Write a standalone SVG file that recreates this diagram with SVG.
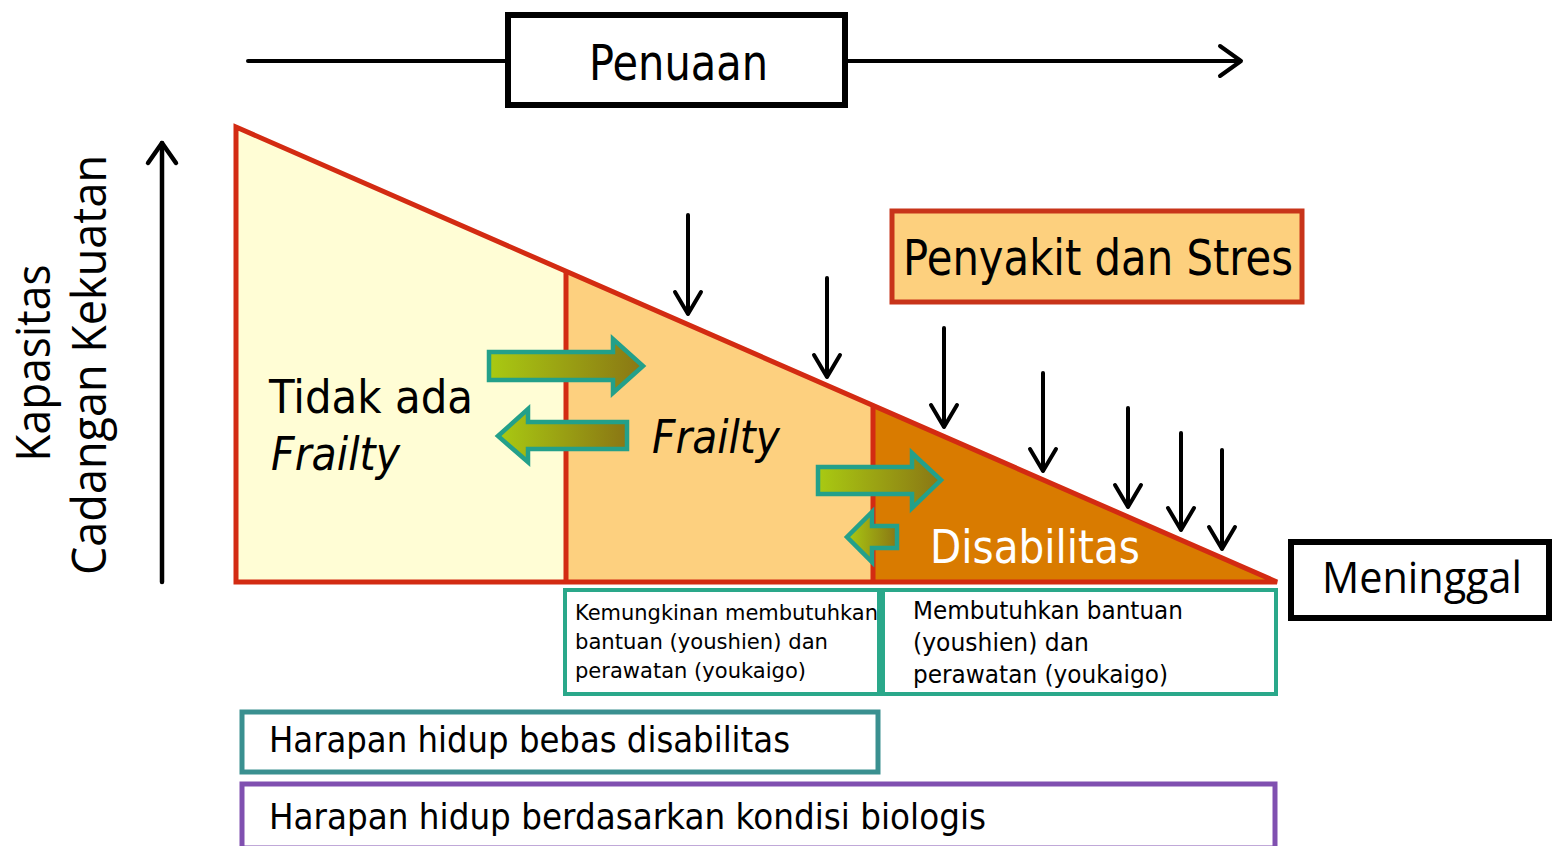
<svg xmlns="http://www.w3.org/2000/svg" width="1552" height="846" viewBox="0 0 1552 846">
<defs>
<linearGradient id="gArrow" x1="0" y1="0" x2="1" y2="0">
<stop offset="0" stop-color="#A9CA12"/>
<stop offset="1" stop-color="#8A7614"/>
</linearGradient>
<style>
.blk{stroke:#000;fill:none;stroke-linecap:round;stroke-linejoin:round}
.va{stroke-width:4}
.green{fill:url(#gArrow);stroke:#23A08A;stroke-width:4.5;stroke-linejoin:miter}
.red{stroke:#D32B12;stroke-width:5;stroke-linejoin:miter}
.t{font-family:"DejaVu Sans","Liberation Sans",sans-serif;fill:#000}
.o{font-family:"Open Sans","Noto Sans","Liberation Sans",sans-serif;fill:#000}
</style>
</defs>
<rect width="1552" height="846" fill="#fff"/>

<g id="stages">
<polygon points="236,127 566,271.3 566,582 236,582" fill="#FFFDD5"/>
<polygon points="566,271.3 873,405.4 873,582 566,582" fill="#FDD07F"/>
<polygon points="873,405.4 1277,582 873,582" fill="#D97B00"/>
<polygon class="red" points="236,127 1277,582 236,582" fill="none"/>
<line class="red" x1="566" y1="271.3" x2="566" y2="582"/>
<line class="red" x1="873" y1="405.4" x2="873" y2="582"/>
</g>

<g id="connectors">
<line class="blk" x1="248" y1="61" x2="1240" y2="61" stroke-width="4"/>
<polyline class="blk" points="1220,46 1241,61 1220,76" stroke-width="4"/>
<line class="blk" x1="162" y1="582" x2="162" y2="143" stroke-width="4.5"/>
<polyline class="blk" points="148,163 162,143 176,163" stroke-width="4.5"/>
<g class="blk va">
<line x1="688" y1="215" x2="688" y2="313"/><polyline points="675,292 688,314 701,292"/>
<line x1="827" y1="278" x2="827" y2="376"/><polyline points="814,355 827,377 840,355"/>
<line x1="944" y1="328" x2="944" y2="426"/><polyline points="931,405 944,427 957,405"/>
<line x1="1043" y1="373" x2="1043" y2="470"/><polyline points="1030,449 1043,471 1056,449"/>
<line x1="1128" y1="408" x2="1128" y2="506"/><polyline points="1115,485 1128,507 1141,485"/>
<line x1="1181" y1="433" x2="1181" y2="529"/><polyline points="1168,508 1181,530 1194,508"/>
<line x1="1222" y1="450" x2="1222" y2="548"/><polyline points="1209,527 1222,549 1235,527"/>
</g>
<polygon class="green" points="489,352 613,352 613,339 643,366 613,393 613,380 489,380"/>
<polygon class="green" points="627,422 528,422 528,409 498,436 528,462 528,449 627,449"/>
<polygon class="green" points="818,467 912,467 912,453 941,480 912,508 912,494 818,494"/>
<polygon class="green" points="897,526 872,526 872,512 847,537 872,562 872,548 897,548"/>
</g>

<g id="penuaan">
<rect x="508" y="15" width="337" height="90" fill="#fff" stroke="#000" stroke-width="6"/>
<line x1="508" y1="16" x2="845" y2="16" stroke="#000" stroke-width="4"/>
<line x1="508" y1="104" x2="845" y2="104" stroke="#000" stroke-width="4"/>
<text class="t" x="589" y="80" font-size="50" textLength="179" lengthAdjust="spacingAndGlyphs">Penuaan</text>
</g>

<g id="penyakit">
<rect x="892" y="211" width="410" height="91" fill="#FDD07E" stroke="#C8341A" stroke-width="5"/>
<text class="t" x="903" y="275" font-size="49" textLength="390" lengthAdjust="spacingAndGlyphs">Penyakit dan Stres</text>
</g>

<g id="meninggal">
<rect x="1291" y="542" width="258" height="76" fill="#fff" stroke="#000" stroke-width="6"/>
<text class="o" x="1322" y="593" font-size="44" textLength="200" lengthAdjust="spacingAndGlyphs">Meninggal</text>
</g>

<g id="axis-label">
<text class="o" transform="translate(50,363) rotate(-90)" text-anchor="middle" font-size="48" textLength="197" lengthAdjust="spacingAndGlyphs">Kapasitas</text>
<text class="o" transform="translate(106,365) rotate(-90)" text-anchor="middle" font-size="48" textLength="420" lengthAdjust="spacingAndGlyphs">Cadangan Kekuatan</text>
</g>

<g id="tidak-ada-frailty">
<text class="t" x="269" y="413" font-size="46" textLength="204" lengthAdjust="spacingAndGlyphs">Tidak ada</text>
<text class="t" x="271" y="470" font-size="46" font-style="italic" textLength="129" lengthAdjust="spacingAndGlyphs">Frailty</text>
</g>

<g id="frailty">
<text class="t" x="652" y="453" font-size="46" font-style="italic" textLength="128" lengthAdjust="spacingAndGlyphs">Frailty</text>
</g>

<g id="disabilitas">
<text class="t" x="930" y="563" font-size="47" style="fill:#fff" textLength="210" lengthAdjust="spacingAndGlyphs">Disabilitas</text>
</g>

<g id="box-kemungkinan">
<rect x="565" y="590" width="314" height="104" fill="#fff" stroke="#2AA88A" stroke-width="4"/>
<text class="t" x="575" y="620" font-size="22" textLength="303" lengthAdjust="spacingAndGlyphs">Kemungkinan membutuhkan</text>
<text class="t" x="575" y="649" font-size="22" textLength="253" lengthAdjust="spacingAndGlyphs">bantuan (youshien) dan</text>
<text class="t" x="575" y="678" font-size="22" textLength="231" lengthAdjust="spacingAndGlyphs">perawatan (youkaigo)</text>
</g>

<g id="box-membutuhkan">
<rect x="883" y="590" width="393" height="104" fill="#fff" stroke="#2AA88A" stroke-width="4"/>
<text class="t" x="913" y="619" font-size="25" textLength="270" lengthAdjust="spacingAndGlyphs">Membutuhkan bantuan</text>
<text class="t" x="913" y="651" font-size="25" textLength="176" lengthAdjust="spacingAndGlyphs">(youshien) dan</text>
<text class="t" x="913" y="683" font-size="25" textLength="255" lengthAdjust="spacingAndGlyphs">perawatan (youkaigo)</text>
</g>

<g id="box-bebas">
<rect x="242" y="712" width="636" height="60" fill="#fff" stroke="#3A9090" stroke-width="5"/>
<text class="t" x="269" y="752" font-size="36" textLength="521" lengthAdjust="spacingAndGlyphs">Harapan hidup bebas disabilitas</text>
</g>

<g id="box-biologis">
<rect x="242" y="784" width="1033" height="64" fill="#fff" stroke="#8050B0" stroke-width="5"/>
<text class="t" x="269" y="829" font-size="36" textLength="717" lengthAdjust="spacingAndGlyphs">Harapan hidup berdasarkan kondisi biologis</text>
</g>
</svg>
